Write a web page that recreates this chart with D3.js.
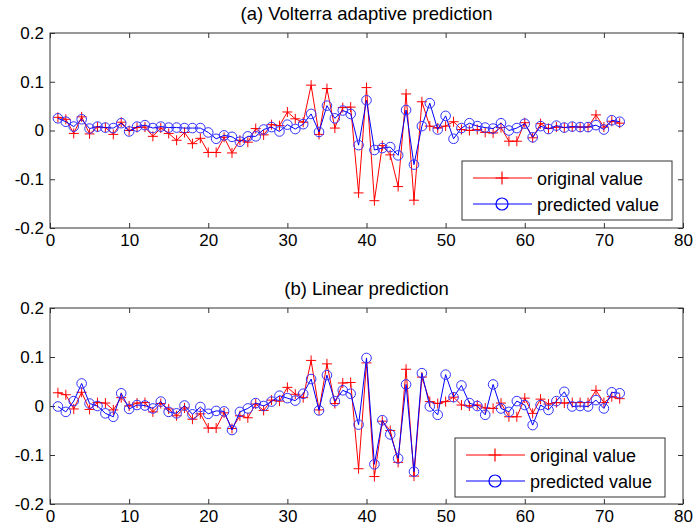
<!DOCTYPE html>
<html>
<head>
<meta charset="utf-8">
<script src="https://cdn.jsdelivr.net/npm/d3@7"></script>
<style>
  body { margin: 0; background: #fff; }
  svg { font-family: "Liberation Sans", Arial, sans-serif; }
</style>
</head>
<body>
<div id="chart"></div>
<script>
// sample index 1..72
const steps = d3.range(1, 73);

const original = [0.027, 0.023, -0.006, 0.028, -0.007, 0.007, 0.006, -0.008, 0.017, 0.0,
  0.006, 0.007, -0.012, 0.005, -0.006, -0.02, -0.004, -0.027, -0.016, -0.045,
  -0.045, -0.014, -0.046, -0.02, -0.024, 0.004, -0.009, 0.012, 0.01, 0.038,
  0.024, 0.017, 0.093, -0.008, 0.086, 0.005, 0.047, 0.048, -0.128, 0.088,
  -0.144, -0.031, -0.05, -0.115, 0.075, -0.143, 0.059, 0.009, 0.005, 0.009,
  0.018, 0.002, 0.0, 0.002, -0.004, -0.005, 0.006, -0.022, -0.022, 0.016,
  -0.015, 0.014, 0.004, 0.007, 0.006, 0.007, 0.007, 0.007, 0.032, 0.007,
  0.019, 0.015];

const volterra = [0.025, 0.018, 0.008, 0.023, 0.004, 0.008, 0.006, 0.005, 0.015, -0.002,
  0.008, 0.011, 0.005, 0.008, 0.006, 0.006, 0.005, 0.005, 0.005, -0.004,
  -0.017, -0.01, -0.013, -0.023, -0.012, -0.012, 0.002, 0.007, -0.002, 0.012,
  0.003, 0.013, 0.034, -0.003, 0.051, 0.025, 0.041, 0.034, -0.03, 0.062,
  -0.04, -0.036, -0.034, -0.051, 0.042, -0.07, 0.009, 0.056, 0.002, 0.03,
  -0.017, 0.005, 0.015, 0.009, 0.006, 0.004, 0.015, 0.0, 0.005, 0.014,
  -0.014, 0.009, 0.003, 0.01, 0.006, 0.008, 0.007, 0.007, 0.011, 0.002,
  0.021, 0.018];

const linear = [-0.001, -0.012, 0.01, 0.046, 0.005, 0.0, -0.015, -0.022, 0.026, -0.006,
  0.002, 0.001, -0.005, 0.009, -0.012, -0.015, 0.001, -0.017, -0.002, -0.016,
  -0.01, -0.011, -0.049, -0.012, -0.005, 0.006, 0.0, 0.009, 0.021, 0.016,
  0.011, 0.025, 0.055, -0.009, 0.063, 0.01, 0.032, 0.025, -0.038, 0.098,
  -0.119, -0.029, -0.058, -0.107, 0.044, -0.134, 0.067, -0.001, -0.018, 0.064,
  0.018, 0.042, 0.006, 0.0, -0.018, 0.044, -0.005, -0.012, 0.01, 0.002,
  -0.039, 0.002, -0.008, 0.01, 0.029, -0.001, 0.0, -0.001, 0.012, -0.005,
  0.028, 0.026];

const xTicks = [0, 10, 20, 30, 40, 50, 60, 70, 80];
const yTicks = [-0.2, -0.1, 0, 0.1, 0.2];
const legendLabels = ["original value", "predicted value"];
const titles = ["(a) Volterra adaptive prediction", "(b) Linear prediction"];

const W = 694, H = 532;
const svg = d3.select("#chart").append("svg")
  .attr("width", W)
  .attr("height", H);

const panels = [
  {title: titles[0], pred: volterra, top: 33, bottom: 228, legend: {x: 462, y: 161, w: 210, h: 59}},
  {title: titles[1], pred: linear, top: 308, bottom: 504, legend: {x: 455, y: 438, w: 210, h: 59}}
];

const left = 50, right = 683;

function plus(sel, r) {
  return sel.attr("d", `M${-r},0H${r}M0,${-r}V${r}`);
}

panels.forEach(p => {
  const x = d3.scaleLinear().domain([0, 80]).range([left, right]);
  const y = d3.scaleLinear().domain([-0.2, 0.2]).range([p.bottom, p.top]);
  const g = svg.append("g");

  // title
  g.append("text")
    .attr("x", (left + right) / 2)
    .attr("y", p.top - 13)
    .attr("text-anchor", "middle")
    .style("font-size", "18.5px")
    .text(p.title);

  // axes with inward ticks on all sides
  const fmt = d => String(d);
  g.append("g")
    .attr("transform", `translate(0,${p.bottom})`)
    .call(d3.axisBottom(x).tickValues(xTicks).tickFormat(fmt).tickSizeInner(-5).tickSizeOuter(0).tickPadding(6))
    .call(a => a.select(".domain").remove());
  g.append("g")
    .attr("transform", `translate(${left},0)`)
    .call(d3.axisLeft(y).tickValues(yTicks).tickFormat(fmt).tickSizeInner(-5).tickSizeOuter(0).tickPadding(6))
    .call(a => a.select(".domain").remove());
  g.append("g")
    .attr("transform", `translate(0,${p.top})`)
    .call(d3.axisTop(x).tickValues(xTicks).tickFormat("").tickSizeInner(-5).tickSizeOuter(0))
    .call(a => a.select(".domain").remove());
  g.append("g")
    .attr("transform", `translate(${right},0)`)
    .call(d3.axisRight(y).tickValues(yTicks).tickFormat("").tickSizeInner(-5).tickSizeOuter(0))
    .call(a => a.select(".domain").remove());
  g.selectAll(".tick text").style("font-size", "17px").attr("fill", "#000");
  g.selectAll(".tick line").attr("stroke", "#333");

  g.append("rect")
    .attr("x", left).attr("y", p.top)
    .attr("width", right - left).attr("height", p.bottom - p.top)
    .attr("fill", "none").attr("stroke", "#333").attr("stroke-width", 1);

  const line = d3.line().x((d, i) => x(steps[i])).y(d => y(d));

  // original
  g.append("path").datum(original)
    .attr("d", line).attr("fill", "none").attr("stroke", "#ff0000").attr("stroke-width", 1);
  g.append("g").selectAll("path").data(original).join("path")
    .attr("transform", (d, i) => `translate(${x(steps[i])},${y(d)})`)
    .call(plus, 5)
    .attr("stroke", "#ff0000").attr("stroke-width", 1);

  // predicted
  g.append("path").datum(p.pred)
    .attr("d", line).attr("fill", "none").attr("stroke", "#0000ff").attr("stroke-width", 1);
  g.append("g").selectAll("circle").data(p.pred).join("circle")
    .attr("cx", (d, i) => x(steps[i]))
    .attr("cy", d => y(d))
    .attr("r", 4.8)
    .attr("fill", "none").attr("stroke", "#3333ff").attr("stroke-width", 1);

  // legend
  const L = p.legend;
  const lg = g.append("g").attr("transform", `translate(${L.x},${L.y})`);
  lg.append("rect").attr("width", L.w).attr("height", L.h)
    .attr("fill", "#fff").attr("stroke", "#333").attr("stroke-width", 1);
  const colors = ["#ff0000", "#0000ff"];
  legendLabels.forEach((lab, k) => {
    const cy = 17 + k * 26;
    lg.append("line").attr("x1", 11).attr("x2", 70).attr("y1", cy).attr("y2", cy)
      .attr("stroke", colors[k]).attr("stroke-width", 1.2);
    if (k === 0) {
      lg.append("path").attr("transform", `translate(40,${cy})`).call(plus, 6.5)
        .attr("stroke", colors[k]).attr("stroke-width", 1.2);
    } else {
      lg.append("circle").attr("cx", 40).attr("cy", cy).attr("r", 6)
        .attr("fill", "none").attr("stroke", colors[k]).attr("stroke-width", 1.2);
    }
    lg.append("text").attr("x", 75).attr("y", cy + 6.5)
      .style("font-size", "18px").text(lab);
  });
});
</script>
</body>
</html>
